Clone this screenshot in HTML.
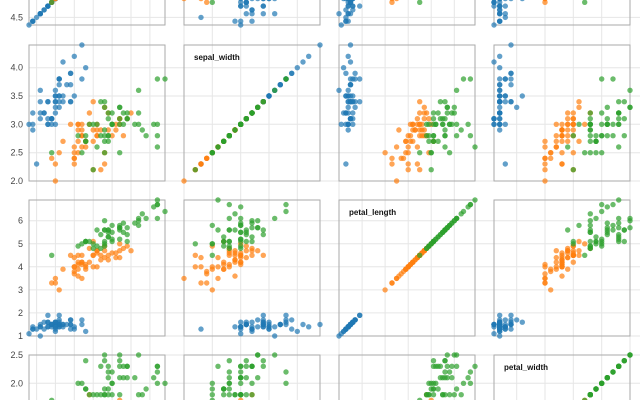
<!DOCTYPE html>
<html><head><meta charset="utf-8"><style>
html,body{margin:0;padding:0;background:#fff;width:640px;height:400px;overflow:hidden}
svg{display:block;overflow:hidden;font-family:"Liberation Sans",sans-serif}
</style></head><body>
<svg id="s" width="640" height="400" viewBox="0 0 640 400" xmlns="http://www.w3.org/2000/svg"></svg>
<script>
const D=`5.1,3.5,1.4,0.2;4.9,3.0,1.4,0.2;4.7,3.2,1.3,0.2;4.6,3.1,1.5,0.2;5.0,3.6,1.4,0.2;5.4,3.9,1.7,0.4;4.6,3.4,1.4,0.3;5.0,3.4,1.5,0.2;4.4,2.9,1.4,0.2;4.9,3.1,1.5,0.1;5.4,3.7,1.5,0.2;4.8,3.4,1.6,0.2;4.8,3.0,1.4,0.1;4.3,3.0,1.1,0.1;5.8,4.0,1.2,0.2;5.7,4.4,1.5,0.4;5.4,3.9,1.3,0.4;5.1,3.5,1.4,0.3;5.7,3.8,1.7,0.3;5.1,3.8,1.5,0.3;5.4,3.4,1.7,0.2;5.1,3.7,1.5,0.4;4.6,3.6,1.0,0.2;5.1,3.3,1.7,0.5;4.8,3.4,1.9,0.2;5.0,3.0,1.6,0.2;5.0,3.4,1.6,0.4;5.2,3.5,1.5,0.2;5.2,3.4,1.4,0.2;4.7,3.2,1.6,0.2;4.8,3.1,1.6,0.2;5.4,3.4,1.5,0.4;5.2,4.1,1.5,0.1;5.5,4.2,1.4,0.2;4.9,3.1,1.5,0.1;5.0,3.2,1.2,0.2;5.5,3.5,1.3,0.2;4.9,3.1,1.5,0.1;4.4,3.0,1.3,0.2;5.1,3.4,1.5,0.2;5.0,3.5,1.3,0.3;4.5,2.3,1.3,0.3;4.4,3.2,1.3,0.2;5.0,3.5,1.6,0.6;5.1,3.8,1.9,0.4;4.8,3.0,1.4,0.3;5.1,3.8,1.6,0.2;4.6,3.2,1.4,0.2;5.3,3.7,1.5,0.2;5.0,3.3,1.4,0.2|7.0,3.2,4.7,1.4;6.4,3.2,4.5,1.5;6.9,3.1,4.9,1.5;5.5,2.3,4.0,1.3;6.5,2.8,4.6,1.5;5.7,2.8,4.5,1.3;6.3,3.3,4.7,1.6;4.9,2.4,3.3,1.0;6.6,2.9,4.6,1.3;5.2,2.7,3.9,1.4;5.0,2.0,3.5,1.0;5.9,3.0,4.2,1.5;6.0,2.2,4.0,1.0;6.1,2.9,4.7,1.4;5.6,2.9,3.6,1.3;6.7,3.1,4.4,1.4;5.6,3.0,4.5,1.5;5.8,2.7,4.1,1.0;6.2,2.2,4.5,1.5;5.6,2.5,3.9,1.1;5.9,3.2,4.8,1.8;6.1,2.8,4.0,1.3;6.3,2.5,4.9,1.5;6.1,2.8,4.7,1.2;6.4,2.9,4.3,1.3;6.6,3.0,4.4,1.4;6.8,2.8,4.8,1.4;6.7,3.0,5.0,1.7;6.0,2.9,4.5,1.5;5.7,2.6,3.5,1.0;5.5,2.4,3.8,1.1;5.5,2.4,3.7,1.0;5.8,2.7,3.9,1.2;6.0,2.7,5.1,1.6;5.4,3.0,4.5,1.5;6.0,3.4,4.5,1.6;6.7,3.1,4.7,1.5;6.3,2.3,4.4,1.3;5.6,3.0,4.1,1.3;5.5,2.5,4.0,1.3;5.5,2.6,4.4,1.2;6.1,3.0,4.6,1.4;5.8,2.6,4.0,1.2;5.0,2.3,3.3,1.0;5.6,2.7,4.2,1.3;5.7,3.0,4.2,1.2;5.7,2.9,4.2,1.3;6.2,2.9,4.3,1.3;5.1,2.5,3.0,1.1;5.7,2.8,4.1,1.3|6.3,3.3,6.0,2.5;5.8,2.7,5.1,1.9;7.1,3.0,5.9,2.1;6.3,2.9,5.6,1.8;6.5,3.0,5.8,2.2;7.6,3.0,6.6,2.1;4.9,2.5,4.5,1.7;7.3,2.9,6.3,1.8;6.7,2.5,5.8,1.8;7.2,3.6,6.1,2.5;6.5,3.2,5.1,2.0;6.4,2.7,5.3,1.9;6.8,3.0,5.5,2.1;5.7,2.5,5.0,2.0;5.8,2.8,5.1,2.4;6.4,3.2,5.3,2.3;6.5,3.0,5.5,1.8;7.7,3.8,6.7,2.2;7.7,2.6,6.9,2.3;6.0,2.2,5.0,1.5;6.9,3.2,5.7,2.3;5.6,2.8,4.9,2.0;7.7,2.8,6.7,2.0;6.3,2.7,4.9,1.8;6.7,3.3,5.7,2.1;7.2,3.2,6.0,1.8;6.2,2.8,4.8,1.8;6.1,3.0,4.9,1.8;6.4,2.8,5.6,2.1;7.2,3.0,5.8,1.6;7.4,2.8,6.1,1.9;7.9,3.8,6.4,2.0;6.4,2.8,5.6,2.2;6.3,2.8,5.1,1.5;6.1,2.6,5.6,1.4;7.7,3.0,6.1,2.3;6.3,3.4,5.6,2.4;6.4,3.1,5.5,1.8;6.0,3.0,4.8,1.8;6.9,3.1,5.4,2.1;6.7,3.1,5.6,2.4;6.9,3.1,5.1,2.3;5.8,2.7,5.1,1.9;6.8,3.2,5.9,2.3;6.7,3.3,5.7,2.5;6.7,3.0,5.2,2.3;6.3,2.5,5.0,1.9;6.5,3.0,5.2,2.0;6.2,3.4,5.4,2.3;5.9,3.0,5.1,1.8`;
const groups=D.split('|').map(g=>g.split(';').map(r=>r.split(',').map(Number)));
const cols=['#1f77b4','#ff7f0e','#2ca02c'];
const names=['sepal_length','sepal_width','petal_length','petal_width'];
const rng=[[4.3,7.9],[2.0,4.4],[1.0,6.9],[0.1,2.5]];
const ticks=[[4.5,5,5.5,6,6.5,7,7.5],[2,2.5,3,3.5,4],[1,2,3,4,5,6],[0.5,1,1.5,2,2.5]];
const fmt=[v=>v.toFixed(1),v=>v.toFixed(1),v=>v.toFixed(0),v=>v.toFixed(1)];
const X0=[29,184,339,494], Y1=[25,181,336,491], W=136;
const sx=(c,v)=>X0[c]+(v-rng[c][0])/(rng[c][1]-rng[c][0])*W;
const sy=(r,v)=>Y1[r]-(v-rng[r][0])/(rng[r][1]-rng[r][0])*W;
let h='';
for(let c=0;c<4;c++)for(const t of ticks[c]){const x=sx(c,t).toFixed(1);h+=`<line x1="${x}" y1="0" x2="${x}" y2="400" stroke="#e6e6e6" stroke-width="1"/>`;}
for(let r=0;r<4;r++)for(const t of ticks[r]){const y=sy(r,t);if(y<0||y>400)continue;h+=`<line x1="29" y1="${y.toFixed(1)}" x2="640" y2="${y.toFixed(1)}" stroke="#e6e6e6" stroke-width="1"/>`;
 h+=`<text x="23" y="${(y+3).toFixed(1)}" text-anchor="end" font-size="9" fill="#444">${fmt[r](t)}</text>`;}
for(let r=0;r<4;r++)for(let c=0;c<4;c++){const top=Math.max(Y1[r]-W,-2),bot=Math.min(Y1[r],402);h+=`<rect x="${X0[c]}" y="${top}" width="${W}" height="${bot-top}" fill="none" stroke="#aaa" stroke-width="1"/>`;}
for(let r=0;r<4;r++)for(let c=0;c<4;c++){
 groups.forEach((g,gi)=>{for(const p of g){const cx=sx(c,p[c]),cy=sy(r,p[r]);if(cy<-4||cy>404)continue;h+=`<circle cx="${cx.toFixed(1)}" cy="${cy.toFixed(1)}" r="2.7" fill="${cols[gi]}" fill-opacity="0.7"/>`;}});
 const ly=Y1[r]-W+15;
 if(r==c&&ly>0&&ly<400)h+=`<text x="${X0[c]+10}" y="${ly}" font-size="8" font-weight="bold" fill="#111">${names[r]}</text>`;
}
document.getElementById('s').innerHTML=h;
</script>
</body></html>
